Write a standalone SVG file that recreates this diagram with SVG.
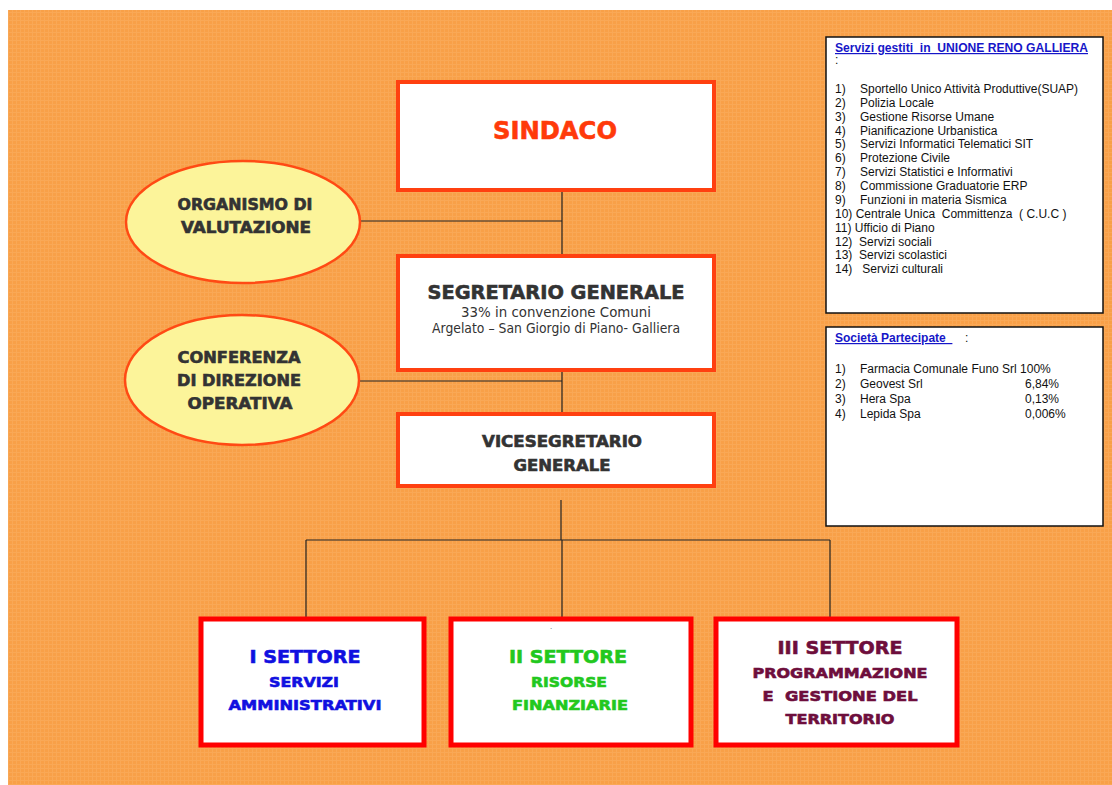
<svg xmlns="http://www.w3.org/2000/svg" width="1112" height="785" viewBox="0 0 1112 785">
<defs>
<pattern id="grid" width="4" height="4" patternUnits="userSpaceOnUse">
<rect width="4" height="4" fill="#F8A048"/>
<path d="M0 0.5H4M0.5 0V4" stroke="#FBB266" stroke-width="1" opacity="0.45"/>
</pattern>
</defs>
<style>
.b{font-family:"DejaVu Sans",Verdana,sans-serif;font-weight:bold;text-anchor:middle;stroke-width:0.6}
.r{font-family:"DejaVu Sans",Verdana,sans-serif;text-anchor:middle;fill:#333}
.dark{fill:#333;stroke:#333}
.red{fill:#FF3A0A;stroke:#FF3A0A}
.blue{fill:#1010E0;stroke:#1010E0}
.green{fill:#22C81E;stroke:#22C81E}
.maroon{fill:#6E0E3C;stroke:#6E0E3C}
.topbox{fill:#fff;stroke:#FF4010;stroke-width:4}
.botbox{fill:#fff;stroke:#F00;stroke-width:5}
.ell{fill:#FCF49A;stroke:#FF4A14;stroke-width:2.5}
.side{fill:#fff;stroke:#111;stroke-width:1.5}
.l{font-family:"Liberation Sans",Arial,sans-serif;font-size:12px;fill:#111;white-space:pre}
.t{font-family:"Liberation Sans",Arial,sans-serif;font-size:12px;font-weight:bold;fill:#1616C8;text-decoration:underline;white-space:pre}
.conn line{stroke:#222;stroke-width:1.2}
</style>
<rect x="0" y="0" width="1112" height="785" fill="#fff"/>
<rect x="8" y="10" width="1104" height="775" fill="url(#grid)"/>

<g class="conn" id="connectors">
<line x1="562" y1="192" x2="562" y2="254"/>
<line x1="359" y1="221" x2="562" y2="221"/>
<line x1="562" y1="372" x2="562" y2="412"/>
<line x1="359" y1="381" x2="562" y2="381"/>
<line x1="561" y1="500" x2="561" y2="540"/>
<line x1="306" y1="540" x2="830" y2="540"/>
<line x1="306" y1="540" x2="306" y2="617"/>
<line x1="562" y1="540" x2="562" y2="617"/>
<line x1="830" y1="540" x2="830" y2="617"/>
</g>

<g id="sindaco">
<rect class="topbox" x="398" y="82" width="316" height="108"/>
<text class="b red" x="555" y="139" font-size="24" textLength="124" lengthAdjust="spacingAndGlyphs">SINDACO</text>
</g>

<g id="organismo">
<ellipse class="ell" cx="243" cy="222" rx="117" ry="61"/>
<text class="b dark" x="245" y="210" font-size="15" textLength="135" lengthAdjust="spacingAndGlyphs">ORGANISMO DI</text>
<text class="b dark" x="246" y="233" font-size="15" textLength="130" lengthAdjust="spacingAndGlyphs">VALUTAZIONE</text>
</g>

<g id="segretario">
<rect class="topbox" x="398" y="256" width="316" height="114"/>
<text class="b dark" x="556" y="299" font-size="19" textLength="257" lengthAdjust="spacingAndGlyphs">SEGRETARIO GENERALE</text>
<text class="r" x="556" y="317" font-size="13.5" textLength="190" lengthAdjust="spacingAndGlyphs">33% in convenzione Comuni</text>
<text class="r" x="556" y="333" font-size="13.5" textLength="248" lengthAdjust="spacingAndGlyphs">Argelato – San Giorgio di Piano- Galliera</text>
</g>

<g id="conferenza">
<ellipse class="ell" cx="242" cy="380" rx="117" ry="65"/>
<text class="b dark" x="239" y="363" font-size="15" textLength="123" lengthAdjust="spacingAndGlyphs">CONFERENZA</text>
<text class="b dark" x="239" y="386" font-size="15" textLength="124" lengthAdjust="spacingAndGlyphs">DI DIREZIONE</text>
<text class="b dark" x="240" y="409" font-size="15" textLength="105" lengthAdjust="spacingAndGlyphs">OPERATIVA</text>
</g>

<g id="vicesegretario">
<rect class="topbox" x="398" y="414" width="316" height="72"/>
<text class="b dark" x="562" y="447" font-size="15" textLength="160" lengthAdjust="spacingAndGlyphs">VICESEGRETARIO</text>
<text class="b dark" x="562" y="471" font-size="15" textLength="97" lengthAdjust="spacingAndGlyphs">GENERALE</text>
</g>

<g id="settore1">
<rect class="botbox" x="201" y="619" width="223" height="126"/>
<text class="b blue" x="305" y="663" font-size="18" textLength="111" lengthAdjust="spacingAndGlyphs">I SETTORE</text>
<text class="b blue" x="304" y="687" font-size="14" textLength="70" lengthAdjust="spacingAndGlyphs">SERVIZI</text>
<text class="b blue" x="305" y="710" font-size="14" textLength="153" lengthAdjust="spacingAndGlyphs">AMMINISTRATIVI</text>
</g>

<g id="settore2">
<rect class="botbox" x="451" y="619" width="240" height="126"/>
<text x="551" y="629" font-family="Liberation Sans,sans-serif" font-size="8" fill="#555" text-anchor="middle">.</text>
<text class="b green" x="568" y="663" font-size="18" textLength="118" lengthAdjust="spacingAndGlyphs">II SETTORE</text>
<text class="b green" x="569" y="687" font-size="14" textLength="76" lengthAdjust="spacingAndGlyphs">RISORSE</text>
<text class="b green" x="570" y="710" font-size="14" textLength="116" lengthAdjust="spacingAndGlyphs">FINANZIARIE</text>
</g>

<g id="settore3">
<rect class="botbox" x="716" y="619" width="241" height="126"/>
<text class="b maroon" x="840" y="654" font-size="18" textLength="125" lengthAdjust="spacingAndGlyphs">III SETTORE</text>
<text class="b maroon" x="840" y="678" font-size="14" textLength="175" lengthAdjust="spacingAndGlyphs">PROGRAMMAZIONE</text>
<text class="b maroon" x="840" y="701" font-size="14" textLength="155" lengthAdjust="spacingAndGlyphs" xml:space="preserve">E  GESTIONE DEL</text>
<text class="b maroon" x="840" y="724" font-size="14" textLength="109" lengthAdjust="spacingAndGlyphs">TERRITORIO</text>
</g>

<g id="servizi">
<rect class="side" x="826" y="37" width="277" height="276"/>
<text class="t" x="835" y="52" textLength="253" lengthAdjust="spacingAndGlyphs" xml:space="preserve">Servizi gestiti  in  UNIONE RENO GALLIERA</text>
<text class="l" x="835" y="64">:</text>
<text class="l" x="835" y="93">1)</text><text class="l" x="860" y="93">Sportello Unico Attività Produttive(SUAP)</text>
<text class="l" x="835" y="107">2)</text><text class="l" x="860" y="107">Polizia Locale</text>
<text class="l" x="835" y="121">3)</text><text class="l" x="860" y="121">Gestione Risorse Umane</text>
<text class="l" x="835" y="135">4)</text><text class="l" x="860" y="135">Pianificazione Urbanistica</text>
<text class="l" x="835" y="148">5)</text><text class="l" x="860" y="148">Servizi Informatici Telematici SIT</text>
<text class="l" x="835" y="162">6)</text><text class="l" x="860" y="162">Protezione Civile</text>
<text class="l" x="835" y="176">7)</text><text class="l" x="860" y="176">Servizi Statistici e Informativi</text>
<text class="l" x="835" y="190">8)</text><text class="l" x="860" y="190">Commissione Graduatorie ERP</text>
<text class="l" x="835" y="204">9)</text><text class="l" x="860" y="204">Funzioni in materia Sismica</text>
<text class="l" x="835" y="218" xml:space="preserve">10) Centrale Unica  Committenza  ( C.U.C )</text>
<text class="l" x="835" y="232">11) Ufficio di Piano</text>
<text class="l" x="835" y="246" xml:space="preserve">12)  Servizi sociali</text>
<text class="l" x="835" y="259" xml:space="preserve">13)  Servizi scolastici</text>
<text class="l" x="835" y="273" xml:space="preserve">14)   Servizi culturali</text>
</g>

<g id="societa">
<rect class="side" x="826" y="327" width="277" height="199"/>
<text class="t" x="835" y="342" xml:space="preserve">Società Partecipate  </text>
<text class="l" x="965" y="342">:</text>
<text class="l" x="835" y="373">1)</text><text class="l" x="860" y="373">Farmacia Comunale Funo Srl 100%</text>
<text class="l" x="835" y="388">2)</text><text class="l" x="860" y="388">Geovest Srl</text><text class="l" x="1025" y="388">6,84%</text>
<text class="l" x="835" y="403">3)</text><text class="l" x="860" y="403">Hera Spa</text><text class="l" x="1025" y="403">0,13%</text>
<text class="l" x="835" y="418">4)</text><text class="l" x="860" y="418">Lepida Spa</text><text class="l" x="1025" y="418">0,006%</text>
</g>
</svg>
